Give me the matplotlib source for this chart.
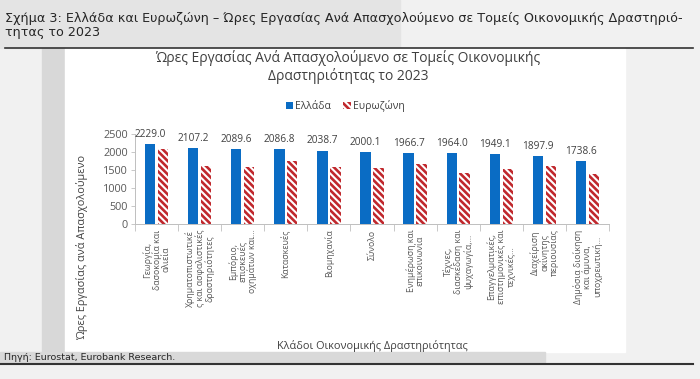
import numpy as np
import matplotlib
matplotlib.use("Agg")
import matplotlib.pyplot as plt
from matplotlib.patches import Rectangle

plt.rcParams['font.family'] = ['Open Sans', 'DejaVu Sans']
plt.rcParams['hatch.linewidth'] = 1.9

# Data
categories = [
    "Γεωργία,\nδασοκομία και\nαλιεία",
    "Χρηματοπιστωτικέ\nς και ασφαλιστικές\nδραστηριότητες",
    "Εμπόριο,\nεπισκευές\nοχημάτων και...",
    "Κατασκευές",
    "Βιομηχανία",
    "Σύνολο",
    "Ενημέρωση και\nεπικοινωνία",
    "Τέχνες,\nδιασκέδαση και\nψυχαγωγία,...",
    "Επαγγελματικές,\nεπιστημονικές και\nτεχνικές...",
    "Διαχείριση\nακίνητης\nπεριουσίας",
    "Δημόσια διοίκηση\nκαι άμυνα,\nυποχρεωτική...",
]
greece = [2229.0, 2107.2, 2089.6, 2086.8, 2038.7, 2000.1, 1966.7, 1964.0, 1949.1, 1897.9, 1738.6]
eurozone = [2085, 1600, 1580, 1760, 1590, 1560, 1660, 1410, 1540, 1610, 1380]
yticks = [0, 500, 1000, 1500, 2000, 2500]

blue = "#0a6cc4"
red = "#c0282d"
grey_txt = "#595959"

fig = plt.figure(figsize=(7, 3.79), dpi=100, facecolor="#f1f1f1")

# background panels of the screenshot
def frect(x0, y0, x1, y1, color):
    # pixel coords (top-left origin) -> figure coords
    fig.patches.append(Rectangle((x0 / 700, 1 - y1 / 379), (x1 - x0) / 700, (y1 - y0) / 379,
                                 transform=fig.transFigure, color=color, zorder=-5))

frect(0, 0, 400, 48, "#e4e4e4")
frect(42, 48, 65, 352, "#d8d8d8")
frect(65, 48, 625, 352, "white")
frect(0, 352, 545, 363, "#d9d9d9")

# header and source
fig.text(5 / 700, 1 - 12 / 379, "Σχήμα 3: Ελλάδα και Ευρωζώνη – Ώρες Εργασίας Ανά Απασχολούμενο σε Τομείς Οικονομικής Δραστηριό-\nτητας το 2023",
         fontsize=9.2, color="#262626", va="top", ha="left", linespacing=1.1,
         family=['Liberation Sans Narrow', 'DejaVu Sans'])
fig.add_artist(plt.Line2D([5 / 700, 693 / 700], [1 - 48 / 379, 1 - 48 / 379],
                          transform=fig.transFigure, color="#333333", lw=1.2))
fig.text(4 / 700, 1 - 357 / 379, "Πηγή: Eurostat, Eurobank Research.", fontsize=6.8, color="#262626",
         va="center", ha="left", family=['Liberation Sans Narrow', 'DejaVu Sans'])
fig.add_artist(plt.Line2D([0, 693 / 700], [1 - 364 / 379, 1 - 364 / 379],
                          transform=fig.transFigure, color="#333333", lw=1.5))

# chart title and legend
fig.text(348 / 700, 1 - 67 / 379, "Ώρες Εργασίας Ανά Απασχολούμενο σε Τομείς Οικονομικής\nΔραστηριότητας το 2023",
         fontsize=10, color="#404040", ha="center", va="center", linespacing=1.1)

ax = fig.add_axes([135 / 700, 155 / 379, 474 / 700, 90 / 379])
x = np.arange(len(categories))
w = 0.24
b1 = ax.bar(x - 0.15, greece, w, color=blue, label="Ελλάδα", zorder=3)
b2 = ax.bar(x + 0.15, eurozone, w, facecolor="white", edgecolor=red, hatch="\\\\\\\\\\",
            linewidth=0, label="Ευρωζώνη", zorder=3)

for xi, v in zip(x, greece):
    ax.annotate(f"{v:.1f}", (xi - 0.15, v), xytext=(0, 3), textcoords="offset points",
                ha="center", va="bottom", fontsize=7.3, color="#404040")

ax.set_xlim(-0.5, len(categories) - 0.5)
ax.set_ylim(0, 2500)
ax.set_yticks(yticks)
ax.tick_params(axis="y", labelsize=7.8, colors=grey_txt, length=3, width=0.6, pad=2)
ax.set_xticks(x)
ax.set_xticklabels(categories, rotation=90, fontsize=6.3, color=grey_txt, multialignment="center",
                   linespacing=1.0)
ax.tick_params(axis="x", length=0, pad=4)
ax.set_xticks(np.arange(-0.5, len(categories)), minor=True)
ax.tick_params(axis="x", which="minor", length=5, width=0.6, color="#bfbfbf")

for s in ["top", "right"]:
    ax.spines[s].set_visible(False)
for s in ["left", "bottom"]:
    ax.spines[s].set_color("#bfbfbf")
    ax.spines[s].set_linewidth(0.7)
ax.tick_params(axis="y", color="#bfbfbf")

ax.set_ylabel("Ώρες Εργασίας ανά Απασχολούμενο", fontsize=7.8, color="#404040", labelpad=0)
ax.yaxis.set_label_coords(-(135 - 88) / 474, -0.26)
ax.set_xlabel("Κλάδοι Οικονομικής Δραστηριότητας", fontsize=7.8, color="#404040")
ax.xaxis.set_label_coords(0.5, -(340 - 224) / 90)

leg = fig.legend(handles=[b1, b2], loc="center", bbox_to_anchor=(345 / 700, 1 - 106 / 379), ncol=2,
                 frameon=False, fontsize=7.5, handlelength=0.7, handleheight=0.7, handletextpad=0.2,
                 columnspacing=1.2, labelcolor="#404040")

fig.savefig("out.png", dpi=100, facecolor=fig.get_facecolor())
